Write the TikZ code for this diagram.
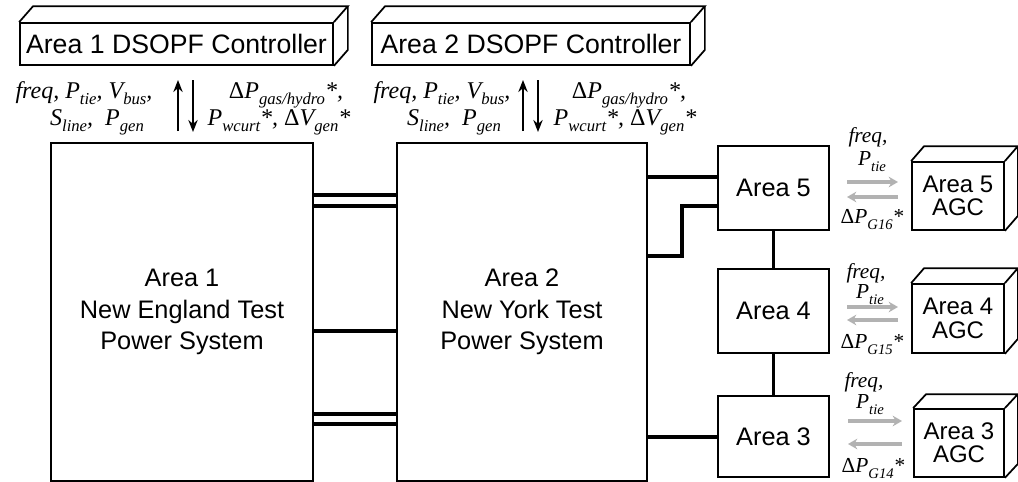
\documentclass[tikz,border=0pt]{standalone}
\usepackage{fontspec}
\setmainfont{Liberation Sans}
\newfontfamily\tms{Liberation Serif}
\usetikzlibrary{arrows.meta,calc}
\newcommand{\sbs}[2][12.5]{\raisebox{-0.28em}{\fontsize{#1}{#1}\selectfont #2}}
\newcommand{\Dl}{{\upshape Δ}}
\def\px{0.75pt}
\newcommand{\cube}[3]{%
  \draw[ctrl] (#1.north west) -- ++(#2,#3) -- ($(#1.north east)+(#2,#3)$) -- (#1.north east);
  \draw[ctrl] ($(#1.north east)+(#2,#3)$) -- ($(#1.south east)+(#2,#3)$) -- (#1.south east);}
\begin{document}
\begin{tikzpicture}[x=0.75pt, y=-0.75pt,
  box/.style={draw, line width=2pt, inner sep=0pt, align=center, font=\fontsize{19}{23.75}\selectfont},
  ctrl/.style={draw, line width=1.3pt, inner sep=0pt, align=center},
  cfont/.style={font=\fontsize{20}{20}\selectfont},
  afont/.style={font=\fontsize{18}{17.5}\selectfont},
  wire/.style={line width=2.4pt},
  sig/.style={line width=1.6pt, -{Stealth[length=9pt,width=7pt]}},
  gsig/.style={line width=2.8pt, gray!60, -{Stealth[length=7pt,width=8pt]}},
  lab/.style={font=\tms\itshape\fontsize{18}{18}\selectfont, inner sep=0pt},
  glab/.style={font=\tms\itshape\fontsize{16}{16}\selectfont, inner sep=0pt}]
\useasboundingbox (0,0) rectangle (1018,482);

% controllers
\node[ctrl, cfont, minimum width=313*\px, minimum height=42*\px] (c1) at (176.5,44) {Area 1 DSOPF Controller};
\node[ctrl, cfont, minimum width=318*\px, minimum height=42*\px] (c2) at (531,44) {Area 2 DSOPF Controller};
\cube{c1}{14}{-16}
\cube{c2}{14}{-16}

% areas
\node[box, minimum width=262*\px, minimum height=338*\px] (a1) at (182,312) {Area 1\\New England Test\\Power System};
\node[box, minimum width=250*\px, minimum height=338*\px] (a2) at (522,312) {Area 2\\New York Test\\Power System};
\node[box, minimum width=111*\px, minimum height=84*\px] (a5) at (773.5,188) {Area 5};
\node[box, minimum width=111*\px, minimum height=84*\px] (a4) at (773.5,311) {Area 4};
\node[box, minimum width=111*\px, minimum height=81*\px] (a3) at (773.5,436.5) {Area 3};

% AGC boxes
\node[ctrl, afont, minimum width=92*\px, minimum height=68*\px] (g5) at (958,196) {Area 5\\AGC};
\node[ctrl, afont, minimum width=92*\px, minimum height=69*\px] (g4) at (958,318.5) {Area 4\\AGC};
\node[ctrl, afont, minimum width=90*\px, minimum height=68*\px] (g3) at (959,443) {Area 3\\AGC};
\cube{g5}{13}{-15}
\cube{g4}{13}{-15}
\cube{g3}{13}{-14}

% tie lines
\draw[wire] (a1.east |- 0,195) -- (a2.west |- 0,195);
\draw[wire] (a1.east |- 0,206) -- (a2.west |- 0,206);
\draw[wire] (a1.east |- 0,331) -- (a2.west |- 0,331);
\draw[wire] (a1.east |- 0,414) -- (a2.west |- 0,414);
\draw[wire] (a1.east |- 0,424) -- (a2.west |- 0,424);
\draw[wire] (a2.east |- 0,177) -- (a5.west |- 0,177);
\draw[wire] (a2.east |- 0,256) -- (682,256) |- (a5.west |- 0,206);
\draw[wire] (a2.east |- 0,437) -- (a3.west |- 0,437);
\draw[wire] (a5) -- (a4);
\draw[wire] (a4) -- (a3);

% DSOPF signal arrows
\coordinate (u1s) at (178,131); \coordinate (u1e) at (178,80);
\coordinate (d1s) at (193,80);  \coordinate (d1e) at (193,132);
\coordinate (u2s) at (523,131); \coordinate (u2e) at (523,80);
\coordinate (d2s) at (538,80);  \coordinate (d2e) at (538,132);
\draw[sig] (u1s) -- (u1e);
\draw[sig] (d1s) -- (d1e);
\draw[sig] (u2s) -- (u2e);
\draw[sig] (d2s) -- (d2e);

\node[lab, anchor=base] (l1a) at (84,98) {freq, P\sbs{tie}, V\sbs{bus},};
\node[lab, anchor=base] (l1b) at (97,125) {S\sbs{line}, \ P\sbs{gen}};
\node[lab, anchor=base] (r1a) at (286,98) {\Dl P\sbs{gas/hydro}*,};
\node[lab, anchor=base] (r1b) at (279,125) {P\sbs{wcurt}*, \Dl V\sbs{gen}*};
\node[lab, anchor=base] (l2a) at (442,98) {freq, P\sbs{tie}, V\sbs{bus},};
\node[lab, anchor=base] (l2b) at (454,125) {S\sbs{line}, \ P\sbs{gen}};
\node[lab, anchor=base] (r2a) at (629,98) {\Dl P\sbs{gas/hydro}*,};
\node[lab, anchor=base] (r2b) at (625,125) {P\sbs{wcurt}*, \Dl V\sbs{gen}*};

% AGC signals
\coordinate (s5a) at (847,182); \coordinate (s5b) at (898,182);
\coordinate (s5c) at (898,197); \coordinate (s5d) at (847,197);
\coordinate (s4a) at (847,307); \coordinate (s4b) at (898,307);
\coordinate (s4c) at (898,320); \coordinate (s4d) at (847,320);
\coordinate (s3a) at (848,421); \coordinate (s3b) at (902,421);
\coordinate (s3c) at (902,444); \coordinate (s3d) at (848,444);
\draw[gsig] (s5a) -- (s5b);
\draw[gsig] (s5c) -- (s5d);
\draw[gsig] (s4a) -- (s4b);
\draw[gsig] (s4c) -- (s4d);
\draw[gsig] (s3a) -- (s3b);
\draw[gsig] (s3c) -- (s3d);

\node[glab] (f5) at (868,137) {freq,};
\node[glab] (p5) at (872,162) {P\sbs[11]{tie}};
\node[glab] (d5) at (872,220) {\Dl P\sbs[11]{G16}*};
\node[glab] (f4) at (866,273) {freq,};
\node[glab] (p4) at (870,295) {P\sbs[11]{tie}};
\node[glab] (d4) at (872,345) {\Dl P\sbs[11]{G15}*};
\node[glab] (f3) at (864,382) {freq,};
\node[glab] (p3) at (870,405) {P\sbs[11]{tie}};
\node[glab] (d3) at (873,469) {\Dl P\sbs[11]{G14}*};
\end{tikzpicture}
\end{document}
